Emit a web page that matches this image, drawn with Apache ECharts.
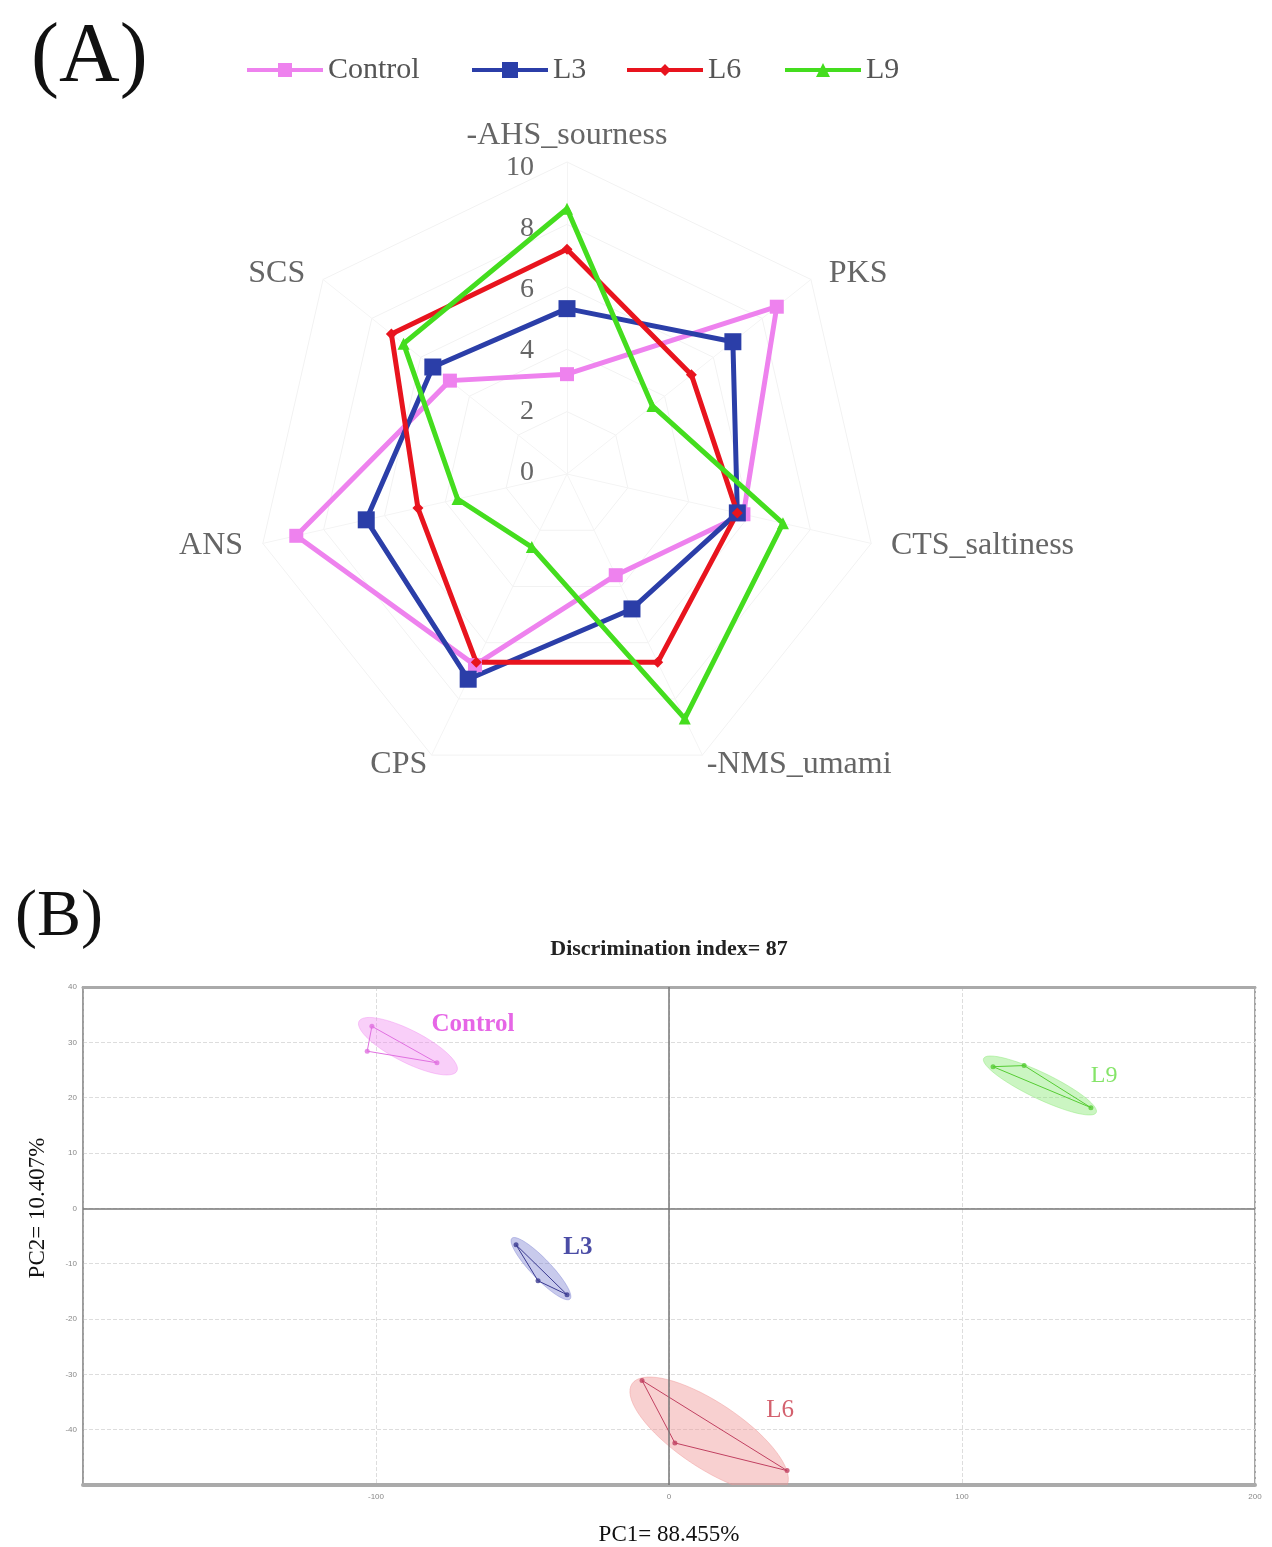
<!DOCTYPE html>
<html>
<head>
<meta charset="utf-8">
<script src="https://cdn.jsdelivr.net/npm/echarts@6/dist/echarts.min.js"></script>
<style>
html,body{margin:0;padding:0;background:#fff;}
#main{width:1272px;height:1547px;}
</style>
</head>
<body>
<div id="main"></div>
<script>
// ---- data (A) electronic tongue radar ----
var groups=['Control','L3','L6','L9'];
var attrs=['-AHS_sourness','PKS','CTS_saltiness','-NMS_umami','CPS','ANS','SCS'];
var radarTicks=[0,2,4,6,8,10];
var controlVals=[3.2,8.6,5.8,3.6,6.8,8.9,4.8];
var l3Vals=[5.3,6.8,5.6,4.8,7.3,6.6,5.5];
var l6Vals=[7.2,5.1,5.6,6.7,6.7,4.9,7.2];
var l9Vals=[8.5,3.5,7.1,8.7,2.6,3.6,6.7];

// ---- data (B) PCA scores [PC1, PC2] ----
var controlPts=[[-101.4,32.9],[-103,28.4],[-79.2,26.3]];
var l3Pts=[[-52.2,-6.6],[-44.7,-13.1],[-34.8,-15.6]];
var l6Pts=[[-9.2,-31.1],[2.0,-42.4],[40.3,-47.4]];
var l9Pts=[[110.6,25.6],[121.2,25.8],[144,18.2]];
// confidence ellipses: centre, half axis u, half axis v
var controlEll=[[-89.1,29.3],[16.7,-4.5],[-2.5,-2.6]];
var l3Ell=[[-43.7,-10.9],[9.9,-5.5],[-2.5,-1.2]];
var l6Ell=[[13.7,-41.0],[26.3,-9.3],[-6.3,-4.9]];
var l9Ell=[[126.6,22.2],[19.2,-4.9],[-2.0,-2.1]];
var groupLabelPos=[[-66.9,33.2],[-31.1,-7.0],[37.9,-36.5],[148.5,24.0]];
var pcTicksX=[-200,-100,0,100,200];
var pcTicksY=[-50,-40,-30,-20,-10,0,10,20,30,40];
var discIndex=87;

var chart=echarts.init(document.getElementById('main'));
var serif='"Liberation Serif","DejaVu Serif",serif';

// echarts radar goes counter-clockwise, the figure goes clockwise
var order=[0,6,5,4,3,2,1];
function reorder(a){return order.map(function(i){return a[i];});}
// which side of the web each axis name sits on
var nameSide=['t','r','r','b','b','l','l'];

var radarVals=[controlVals,l3Vals,l6Vals,l9Vals];
var lineColors=['#ee82ee','#2b3ea8','#e8141e','#44dd1e'];
var symbols=['rect','rect','diamond','triangle'];
var symbolSizes=[14,17,11,12];
var legendIcons=[
	'path://M0,6h76v4h-76z M31,1h14v14h-14z',
	'path://M0,6h76v4h-76z M30,0h16v16h-16z',
	'path://M0,6h76v4h-76z M38,2L44,8L38,14L32,8z',
	'path://M0,6h76v4h-76z M38,1L45,15L31,15z'
];
var legendLeft=[242,467,622,780];

var pcPts=[controlPts,l3Pts,l6Pts,l9Pts];
var pcEll=[controlEll,l3Ell,l6Ell,l9Ell];
var pcText=['#e040e0','#1e2090','#c83a4a','#66dd44'];
var pcFill=['rgba(240,130,240,0.38)','rgba(110,115,205,0.38)','rgba(240,150,150,0.45)','rgba(130,230,110,0.42)'];
var pcLine=['#e070e0','#3a3a90','#c04060','#55cc33'];

function ellipseItem(params,api){
	var i=params.dataIndex;
	var e=pcEll[i];
	var pts=[];
	for(var k=0;k<=72;k++){
		var t=k/72*Math.PI*2;
		pts.push(api.coord([
			e[0][0]+Math.cos(t)*e[1][0]+Math.sin(t)*e[2][0],
			e[0][1]+Math.cos(t)*e[1][1]+Math.sin(t)*e[2][1]
		]));
	}
	var tri=pcPts[i].map(function(p){return api.coord(p);});
	var cs=params.coordSys;
	return {
		type:'group',
		clipPath:{type:'rect',shape:{x:cs.x,y:cs.y,width:cs.width,height:cs.height}},
		children:[
			{type:'polygon',shape:{points:pts},style:{fill:pcFill[i],stroke:pcFill[i],lineWidth:1}},
			{type:'polygon',shape:{points:tri},style:{fill:'none',stroke:pcLine[i],lineWidth:1}}
		]
	};
}

var series=[{
	type:'radar',
	name:'taste',
	radarIndex:0,
	data:groups.map(function(g,i){
		return {
			name:g,
			value:reorder(radarVals[i]),
			symbol:symbols[i],
			symbolSize:symbolSizes[i],
			lineStyle:{color:lineColors[i],width:5},
			itemStyle:{color:lineColors[i]}
		};
	})
},{
	type:'custom',
	name:'ellipses',
	xAxisIndex:1,
	yAxisIndex:1,
	renderItem:ellipseItem,
	data:pcEll.map(function(e){return e[0];}),
	silent:true
}];
groups.forEach(function(g,i){
	series.push({
		type:'scatter',
		name:g+' scores',
		xAxisIndex:1,
		yAxisIndex:1,
		symbolSize:5,
		itemStyle:{color:pcLine[i]},
		data:pcPts[i]
	});
});
series.push({
	type:'scatter',
	name:'group names',
	xAxisIndex:1,
	yAxisIndex:1,
	symbolSize:0,
	data:groupLabelPos.map(function(p,i){
		return {
			value:p,
			label:{show:true,formatter:groups[i],color:pcText[i],fontFamily:serif,
				fontSize:i==3?24:25,fontWeight:(i==0||i==1)?'bold':'normal',position:'inside'}
		};
	}),
	markLine:{
		silent:true,
		symbol:'none',
		label:{show:false},
		lineStyle:{color:'#777',width:1.5,type:'solid'},
		data:[{xAxis:0},{yAxis:0}]
	}
});

var nameFont={fontFamily:serif,fontSize:32,color:'#666'};
var option={
	animation:false,
	title:[{
		text:'(A)',left:26,top:12,
		textStyle:{fontFamily:serif,fontSize:84,fontWeight:'normal',color:'#111'}
	},{
		text:'(B)',left:10,top:880,
		textStyle:{fontFamily:serif,fontSize:66,fontWeight:'normal',color:'#111'}
	},{
		text:'Discrimination index= '+discIndex,left:664,top:933,textAlign:'center',
		textStyle:{fontFamily:serif,fontSize:22,fontWeight:'bold',color:'#222'}
	}],
	legend:groups.map(function(g,i){
		return {
			data:[{name:g,icon:legendIcons[i]}],
			left:legendLeft[i],
			top:50,
			itemWidth:76,
			itemHeight:16,
			textStyle:{fontFamily:serif,fontSize:30,color:'#555'}
		};
	}),
	radar:{
		center:[567,474],
		radius:312,
		startAngle:90,
		shape:'polygon',
		splitNumber:5,
		indicator:reorder(attrs).map(function(a){return {name:a,min:0,max:10};}),
		axisName:{
			fontFamily:serif,fontSize:32,color:'#666',
			formatter:function(name){
				var side=nameSide[attrs.indexOf(name)];
				return '{'+side+'|'+name+'}';
			},
			rich:{
				t:nameFont,
				b:nameFont,
				r:Object.assign({padding:[0,0,0,10]},nameFont),
				l:Object.assign({padding:[0,10,0,0]},nameFont)
			}
		},
		nameGap:10,
		splitLine:{lineStyle:{color:'#f2f2f2',width:1}},
		splitArea:{show:false},
		axisLine:{lineStyle:{color:'#f4f4f4'}},
		axisTick:{show:false},
		axisLabel:{show:false}
	},
	grid:[{
		left:540,top:168,width:1,height:305
	},{
		left:83,right:17,top:987,bottom:57,
		show:true,borderColor:'#888',borderWidth:1.5
	}],
	xAxis:[{
		gridIndex:0,type:'value',show:false
	},{
		gridIndex:1,type:'value',min:pcTicksX[0],max:pcTicksX[pcTicksX.length-1],interval:100,position:'bottom',
		name:'PC1= 88.455%',nameLocation:'middle',nameGap:38,
		nameTextStyle:{fontFamily:serif,fontSize:23,color:'#111'},
		axisLine:{onZero:false,lineStyle:{color:'#aaa',width:4}},
		axisTick:{show:false},
		axisLabel:{fontSize:8,color:'#888',showMinLabel:false,margin:8},
		splitLine:{show:true,lineStyle:{color:'#ddd',type:'dashed'}}
	},{
		gridIndex:1,type:'value',min:pcTicksX[0],max:pcTicksX[pcTicksX.length-1],interval:100,position:'top',
		axisLine:{onZero:false,lineStyle:{color:'#aaa',width:3}},
		axisTick:{show:false},axisLabel:{show:false},splitLine:{show:false}
	}],
	yAxis:[{
		gridIndex:0,type:'value',min:radarTicks[0],max:radarTicks[radarTicks.length-1],interval:2,
		axisLine:{show:false},axisTick:{show:false},splitLine:{show:false},
		axisLabel:{fontFamily:serif,fontSize:28,color:'#666',margin:6}
	},{
		gridIndex:1,type:'value',min:pcTicksY[0],max:pcTicksY[pcTicksY.length-1],interval:10,
		name:'PC2= 10.407%',nameLocation:'middle',nameGap:34,
		nameTextStyle:{fontFamily:serif,fontSize:23,color:'#111',padding:[0,0,0,56]},
		axisLine:{onZero:false,lineStyle:{color:'#999',width:1.5}},
		axisTick:{show:false},
		axisLabel:{fontSize:8,color:'#888',showMinLabel:false,margin:6},
		splitLine:{show:true,lineStyle:{color:'#ddd',type:'dashed'}}
	}],
	series:series
};
chart.setOption(option);
</script>
</body>
</html>
